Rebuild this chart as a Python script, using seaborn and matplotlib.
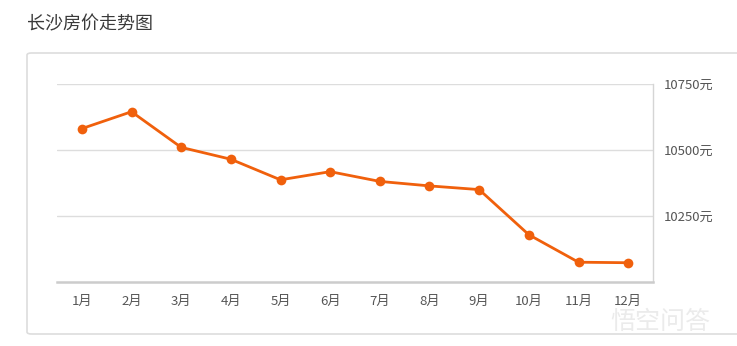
import pandas as pd
import seaborn as sns
import matplotlib.pyplot as plt
from matplotlib.patches import FancyBboxPatch

months = ["1月", "2月", "3月", "4月", "5月", "6月",
          "7月", "8月", "9月", "10月", "11月", "12月"]
prices = [10581, 10645, 10510, 10465, 10387, 10418,
          10381, 10364, 10350, 10179, 10075, 10073]
y_ticks = [10250, 10500, 10750]

df = pd.DataFrame({"month": months, "price": prices})

sns.set_style("white")
plt.rcParams["font.family"] = ["Noto Sans CJK SC", "DejaVu Sans"]

fig = plt.figure(figsize=(7.37, 3.46), dpi=100)

# outer rounded panel (outline only)
box = FancyBboxPatch((27 / 737, 1 - 334 / 346), 720 / 737, 281 / 346,
                     boxstyle="round,pad=0,rounding_size=0.006",
                     transform=fig.transFigure, fc="none", ec="#dddddd",
                     lw=1.2)
fig.patches.append(box)

fig.text(27 / 737, 1 - 24 / 346, "长沙房价走势图", fontsize=13,
         color="#3a3a3a", va="center", ha="left")

ax = fig.add_axes([57 / 737, 1 - 282 / 346, 596 / 737, 198 / 346])
ax.patch.set_alpha(0)

sns.lineplot(data=df, x="month", y="price", ax=ax, color="#f0600c",
             linewidth=2, marker="o", markersize=7, markeredgewidth=0,
             sort=False)

ax.set_xlim(-0.5, 11.5)
ax.set_ylim(10000, 10750)
ax.set_yticks(y_ticks)
ax.set_yticklabels([f"{v}元" for v in y_ticks])
ax.yaxis.tick_right()
ax.tick_params(axis="y", length=0, pad=8, labelsize=9.5, labelcolor="#555555")
ax.tick_params(axis="x", length=4, width=1, color="#cccccc", pad=5,
               labelsize=9.5, labelcolor="#555555")
ax.set_xlabel("")
ax.set_ylabel("")
ax.grid(axis="y", color="#dddddd", linewidth=1)
ax.grid(axis="x", visible=False)

for side in ["top", "left"]:
    ax.spines[side].set_visible(False)
ax.spines["right"].set_color("#d5d5d5")
ax.spines["right"].set_linewidth(1)
ax.spines["bottom"].set_color("#cccccc")
ax.spines["bottom"].set_linewidth(1.8)

# faint watermark
fig.text(660 / 737, 1 - 322 / 346, "悟空问答", fontsize=18, color="#ebebeb",
         ha="center", va="center")

fig.savefig("out.png", dpi=100)
